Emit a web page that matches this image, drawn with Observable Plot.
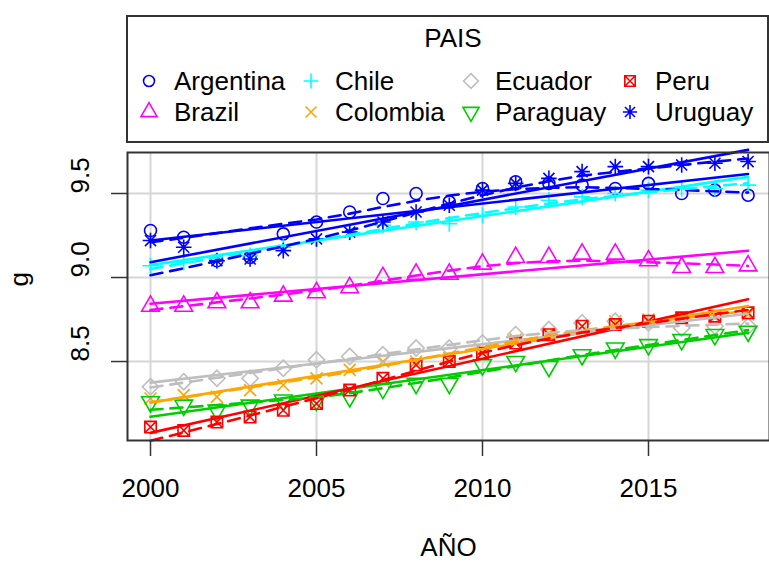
<!DOCTYPE html>
<html><head><meta charset="utf-8">
<script src="https://cdn.jsdelivr.net/npm/d3@7"></script>
<script src="https://cdn.jsdelivr.net/npm/@observablehq/plot@0.6"></script>
<style>
body{margin:0;background:#fff}
#wrap{position:relative;width:769px;height:562px;overflow:hidden;font-family:"Liberation Sans",Arial,Helvetica,sans-serif}
#wrap svg{position:absolute;left:0;top:0}
</style></head><body><div id="wrap"></div>
<script>
// ---- data ----
const years = [2000,2001,2002,2003,2004,2005,2006,2007,2008,2009,2010,2011,2012,2013,2014,2015,2016,2017,2018];
const countries = ["Argentina","Brazil","Chile","Colombia","Ecuador","Paraguay","Peru","Uruguay"];
const colors = ["#0000FF","#FF00FF","#00FFFF","#FFA500","#BEBEBE","#00CD00","#FF0000","#0000FF"];
const argentina = [9.28,9.24,9.10,9.12,9.26,9.33,9.39,9.47,9.50,9.45,9.53,9.57,9.56,9.55,9.53,9.56,9.50,9.52,9.49];
const brazil    = [8.83,8.83,8.85,8.85,8.89,8.91,8.94,9.00,9.02,9.02,9.08,9.12,9.12,9.14,9.14,9.10,9.06,9.06,9.07];
const chile     = [9.07,9.09,9.10,9.13,9.18,9.23,9.27,9.31,9.33,9.32,9.37,9.42,9.46,9.48,9.50,9.52,9.53,9.53,9.55];
const colombia  = [8.28,8.30,8.29,8.33,8.36,8.40,8.45,8.50,8.50,8.52,8.57,8.63,8.67,8.71,8.74,8.75,8.76,8.77,8.78];
const ecuador   = [8.35,8.38,8.40,8.40,8.46,8.51,8.53,8.54,8.58,8.58,8.61,8.66,8.69,8.73,8.74,8.73,8.70,8.71,8.71];
const paraguay  = [8.26,8.24,8.21,8.24,8.27,8.27,8.29,8.34,8.37,8.37,8.48,8.50,8.47,8.54,8.58,8.60,8.63,8.66,8.68];
const peru      = [8.11,8.09,8.14,8.17,8.21,8.25,8.33,8.40,8.48,8.50,8.55,8.61,8.66,8.71,8.72,8.74,8.76,8.77,8.79];
const uruguay   = [9.22,9.18,9.10,9.11,9.16,9.23,9.27,9.33,9.39,9.43,9.52,9.56,9.59,9.63,9.66,9.66,9.67,9.68,9.69];
const xTicks = [2000,2005,2010,2015];
const yTicks = [8.5,9.0,9.5];
const yTickLabels = ["8.5","9.0","9.5"];

const series = [argentina,brazil,chile,colombia,ecuador,paraguay,peru,uruguay];
const data = countries.flatMap((c,i)=>years.map((yr,j)=>({country:c, year:yr, g:series[i][j]}))).filter(d=>d.g!=null);

// ---- loess smoother (span 2/3, degree 1, symmetric family, 4 iterations) ----
function loessFit(xs, ys, span=2/3, iterations=4){
  const n=xs.length, q=Math.max(2,Math.floor(n*span));
  let rob=new Array(n).fill(1);
  const local=(x0)=>{
    const d=xs.map(x=>Math.abs(x-x0));
    const h=[...d].sort((a,b)=>a-b)[q-1]*1.000001;
    const w=d.map((di,i)=>{const u=di/h; return u<1?Math.pow(1-u*u*u,3)*rob[i]:0;});
    let sw=0,swx=0,swy=0;
    for(let i=0;i<n;i++){sw+=w[i];swx+=w[i]*xs[i];swy+=w[i]*ys[i];}
    const mx=swx/sw,my=swy/sw;
    let sxx=0,sxy=0;
    for(let i=0;i<n;i++){sxx+=w[i]*(xs[i]-mx)**2;sxy+=w[i]*(xs[i]-mx)*(ys[i]-my);}
    return sxx>0?my+sxy/sxx*(x0-mx):my;
  };
  let fit;
  for(let it=0;it<iterations;it++){
    fit=xs.map(local);
    if(it<iterations-1){
      const res=ys.map((y,i)=>y-fit[i]);
      const s=6*d3.median(res.map(Math.abs));
      rob=res.map(r=>{const u=s>0?r/s:0;return Math.abs(u)<1?(1-u*u)**2:0;});
    }
  }
  return fit;
}
const smooth = countries.flatMap(c=>{
  const rows=data.filter(d=>d.country===c);
  const fit=loessFit(rows.map(d=>d.year),rows.map(d=>d.g));
  return rows.map((d,i)=>({country:c,year:d.year,g:fit[i]}));
});

// ---- R-like plotting symbols ----
function sym(fn){return {draw(ctx,size){fn(ctx,Math.sqrt(size/Math.PI));}};}
const symbols = [
  sym((c,r)=>{c.moveTo(r,0);c.arc(0,0,r,0,2*Math.PI);}),
  sym((c,r)=>{const R=1.7*r,h=R*Math.cos(Math.PI/6);c.moveTo(0,-R);c.lineTo(h,R/2);c.lineTo(-h,R/2);c.closePath();}),
  sym((c,r)=>{const a=1.35*r;c.moveTo(-a,0);c.lineTo(a,0);c.moveTo(0,-a);c.lineTo(0,a);}),
  sym((c,r)=>{const a=1.0*r;c.moveTo(-a,-a);c.lineTo(a,a);c.moveTo(-a,a);c.lineTo(a,-a);}),
  sym((c,r)=>{const a=1.35*r;c.moveTo(0,-a);c.lineTo(a,0);c.lineTo(0,a);c.lineTo(-a,0);c.closePath();}),
  sym((c,r)=>{const R=1.7*r,h=R*Math.cos(Math.PI/6);c.moveTo(0,R);c.lineTo(h,-R/2);c.lineTo(-h,-R/2);c.closePath();}),
  sym((c,r)=>{const a=0.95*r;c.moveTo(-a,-a);c.lineTo(a,-a);c.lineTo(a,a);c.lineTo(-a,a);c.closePath();c.moveTo(-a,-a);c.lineTo(a,a);c.moveTo(-a,a);c.lineTo(a,-a);}),
  sym((c,r)=>{const a=1.3*r,b=0.92*r;c.moveTo(-a,0);c.lineTo(a,0);c.moveTo(0,-a);c.lineTo(0,a);c.moveTo(-b,-b);c.lineTo(b,b);c.moveTo(-b,b);c.lineTo(b,-b);})
];

const font = "'Liberation Sans', Arial, Helvetica, sans-serif";
const chart = Plot.plot({
  width:769, height:562,
  marginLeft:127, marginRight:0, marginTop:152, marginBottom:122,
  x:{domain:[1999.307,2018.645]},
  y:{domain:[8.03,9.744]},
  color:{domain:countries, range:colors},
  symbol:{domain:countries, range:symbols},
  style:{fontFamily:font, fontSize:"26px", color:"#000", background:"#fff", overflow:"visible"},
  marks:[
    Plot.gridX(xTicks,{stroke:"#d6d6d6",strokeOpacity:1,strokeWidth:2}),
    Plot.gridY(yTicks,{stroke:"#d6d6d6",strokeOpacity:1,strokeWidth:2}),
    Plot.dot(data,{x:"year",y:"g",stroke:"country",symbol:"country",fill:"none",r:6,strokeWidth:1.6}),
    Plot.linearRegressionY(data,{x:"year",y:"g",stroke:"country",ci:0,strokeWidth:2.6}),
    Plot.line(smooth,{x:"year",y:"g",stroke:"country",z:"country",strokeWidth:2.6,strokeDasharray:"12,8"}),
    Plot.frame({stroke:"#333",strokeWidth:2}),
    Plot.axisX({ticks:xTicks,tickSize:16,tickPadding:22,tickFormat:d=>String(d),label:null,fontSize:26,stroke:"#333",strokeWidth:1.5}),
    Plot.axisY({ticks:yTicks,tickSize:16,tickFormat:()=>"",label:null,stroke:"#333",strokeWidth:1.5}),
    Plot.text(yTicks,{y:d=>d,text:(d,i)=>yTickLabels[i],frameAnchor:"left",dx:-47,rotate:-90,fontSize:26}),
    Plot.text(["g"],{text:d=>d,frameAnchor:"left",dx:-108,dy:-10,rotate:-90,fontSize:26}),
    Plot.text(["AÑO"],{text:d=>d,frameAnchor:"bottom",dy:115,fontSize:26})
  ]
});
document.getElementById("wrap").appendChild(chart);

// ---- legend (above the plot region) ----
const lg = d3.select("#wrap").append("svg").attr("width",769).attr("height",150)
  .style("font-family",font).style("font-size","26px");
lg.append("rect").attr("x",127).attr("y",16).attr("width",641).attr("height",126)
  .attr("fill","none").attr("stroke","#333").attr("stroke-width",2);
lg.append("text").attr("x",453).attr("y",38).attr("dy","0.35em").attr("text-anchor","middle").attr("fill","#000").text("PAIS");
const colSym=[149,311,471,630], colTxt=[174,335,495,655], rowY=[81,112];
countries.forEach((c,i)=>{
  const col=Math.floor(i/2), row=i%2;
  const p=d3.path(); symbols[i].draw(p,30*Math.PI);
  lg.append("path").attr("d",p.toString()).attr("transform",`translate(${colSym[col]},${rowY[row]})`)
    .attr("fill","none").attr("stroke",colors[i]).attr("stroke-width",1.6);
  lg.append("text").attr("x",colTxt[col]).attr("y",rowY[row]).attr("dy","0.35em").attr("fill","#000").text(c);
});
</script></body></html>
